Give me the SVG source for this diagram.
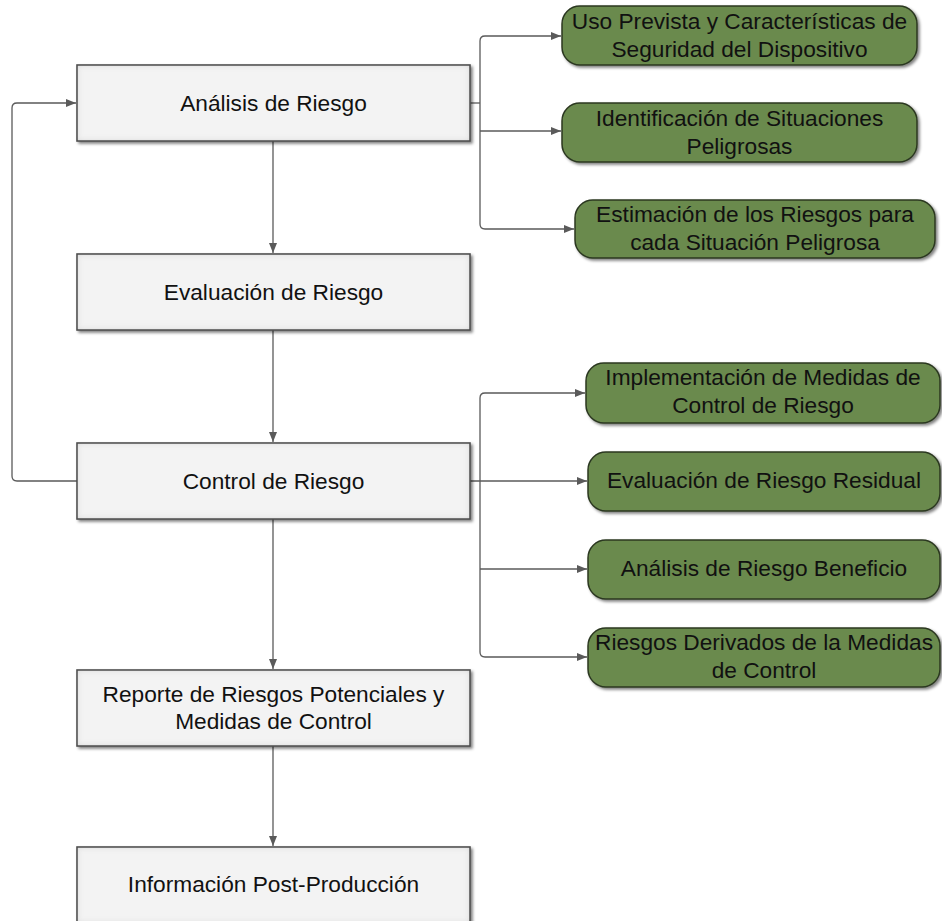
<svg xmlns="http://www.w3.org/2000/svg" width="942" height="921" viewBox="0 0 942 921">
<style>
.main rect{fill:#f3f3f3;stroke:#555;stroke-width:1.5;filter:url(#shi)}
.sub rect{fill:#6b8a4e;stroke:#2c3820;stroke-width:1.5;filter:url(#sh)}
text{font-family:"Liberation Sans",Arial,sans-serif;font-size:22.7px;fill:#111;text-anchor:middle}
.con path{fill:none;stroke:#5a5a5a;stroke-width:1.3}
</style>
<defs>
<filter id="sh" x="-10%" y="-20%" width="120%" height="140%">
<feGaussianBlur in="SourceAlpha" stdDeviation="1.5"/>
<feOffset dx="1.5" dy="1.5" result="b"/>
<feComponentTransfer><feFuncA type="linear" slope="0.5"/></feComponentTransfer>
<feMerge><feMergeNode/><feMergeNode in="SourceGraphic"/></feMerge>
</filter>
<filter id="shi" x="-10%" y="-20%" width="120%" height="140%">
<feGaussianBlur in="SourceAlpha" stdDeviation="1.5"/>
<feOffset dx="1.5" dy="1.5"/>
<feComponentTransfer result="drop"><feFuncA type="linear" slope="0.5"/></feComponentTransfer>
<feGaussianBlur in="SourceAlpha" stdDeviation="3" result="blur"/>
<feComposite in="SourceAlpha" in2="blur" operator="out" result="inv"/>
<feFlood flood-color="#000" flood-opacity="0.35"/>
<feComposite in2="inv" operator="in" result="inner"/>
<feMerge><feMergeNode in="drop"/><feMergeNode in="SourceGraphic"/><feMergeNode in="inner"/></feMerge>
</filter>
<marker id="ar" markerUnits="userSpaceOnUse" markerWidth="11" markerHeight="9" refX="10" refY="4" orient="auto-start-reverse">
<path d="M0,0 L10,4 L0,8 z" fill="#5a5a5a"/>
</marker>
</defs>
<g class="con">
<path d="M273,141 V253" marker-end="url(#ar)"/>
<path d="M273,330 V442" marker-end="url(#ar)"/>
<path d="M273,519 V669" marker-end="url(#ar)"/>
<path d="M273,746 V846" marker-end="url(#ar)"/>
<path d="M77,481 H17 Q12,481 12,476 V108 Q12,103 17,103 H76" marker-end="url(#ar)"/>
<path d="M470,103 H480"/>
<path d="M561,36 H485 Q480,36 480,41 V224 Q480,229 485,229 H574" marker-start="url(#ar)" marker-end="url(#ar)"/>
<path d="M480,131 H561" marker-end="url(#ar)"/>
<path d="M470,481 H587" marker-end="url(#ar)"/>
<path d="M585,393 H485 Q480,393 480,398 V652 Q480,657 485,657 H587" marker-start="url(#ar)" marker-end="url(#ar)"/>
<path d="M480,569 H587" marker-end="url(#ar)"/>
</g>
<g id="analisis" class="main"><rect x="77" y="65" width="393" height="76"/><text x="273.5" y="111">Análisis de Riesgo</text></g>
<g id="evaluacion" class="main"><rect x="77" y="254" width="393" height="76"/><text x="273.5" y="300">Evaluación de Riesgo</text></g>
<g id="control" class="main"><rect x="77" y="443" width="393" height="76"/><text x="273.5" y="489">Control de Riesgo</text></g>
<g id="reporte" class="main"><rect x="77" y="670" width="393" height="76"/><text x="273.5" y="702">Reporte de Riesgos Potenciales y</text><text x="273.5" y="729">Medidas de Control</text></g>
<g id="informacion" class="main"><rect x="77" y="847" width="393" height="76"/><text x="273.5" y="892">Información Post-Producción</text></g>
<g id="uso" class="sub"><rect x="562" y="6" width="355" height="59" rx="18"/><text x="739.5" y="29">Uso Prevista y Características de</text><text x="739.5" y="57">Seguridad del Dispositivo</text></g>
<g id="identificacion" class="sub"><rect x="562" y="103" width="355" height="59" rx="18"/><text x="739.5" y="126">Identificación de Situaciones</text><text x="739.5" y="154">Peligrosas</text></g>
<g id="estimacion" class="sub"><rect x="575" y="200" width="360" height="58" rx="18"/><text x="755" y="222">Estimación de los Riesgos para</text><text x="755" y="250">cada Situación Peligrosa</text></g>
<g id="implementacion" class="sub"><rect x="586" y="363" width="354" height="60" rx="18"/><text x="763" y="385">Implementación de Medidas de</text><text x="763" y="413">Control de Riesgo</text></g>
<g id="residual" class="sub"><rect x="588" y="452" width="352" height="59" rx="18"/><text x="764" y="488">Evaluación de Riesgo Residual</text></g>
<g id="beneficio" class="sub"><rect x="588" y="540" width="352" height="59" rx="18"/><text x="764" y="576">Análisis de Riesgo Beneficio</text></g>
<g id="derivados" class="sub"><rect x="588" y="628" width="352" height="59" rx="18"/><text x="764" y="650">Riesgos Derivados de la Medidas</text><text x="764" y="678">de Control</text></g>
</svg>
